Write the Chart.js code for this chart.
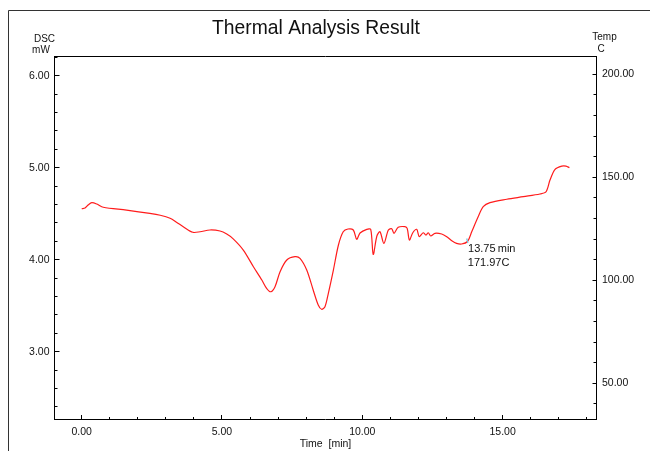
<!DOCTYPE html>
<html>
<head>
<meta charset="utf-8">
<script src="https://cdn.jsdelivr.net/npm/chart.js@4"></script>
<style>
  html, body { margin: 0; padding: 0; background: #fff; overflow: hidden; }
  canvas { display: block; }
</style>
</head>
<body>
<canvas id="chart" width="650" height="451"></canvas>
<script>
// DSC trace: time in minutes and heat flow in mW
const timeMin = [
  0.00, 0.12, 0.24, 0.36, 0.54, 0.77, 1.60, 2.43, 2.80, 3.15,
  3.39, 3.62, 3.96, 4.22, 4.57, 4.93, 5.17, 5.40, 5.76, 6.12,
  6.42, 6.59, 6.74, 6.89, 7.07, 7.31, 7.60, 7.78, 8.02, 8.25,
  8.43, 8.55, 8.67, 8.79, 8.97, 9.15, 9.32, 9.49, 9.68, 9.80,
  9.92, 10.16, 10.30, 10.39, 10.52, 10.63, 10.77, 10.93, 11.05, 11.13,
  11.28, 11.52, 11.60, 11.68, 11.80, 11.94, 12.03, 12.17, 12.27, 12.35,
  12.44, 12.59, 12.83, 13.01, 13.19, 13.36, 13.54, 13.75, 13.90, 14.13,
  14.31, 14.55, 15.15, 15.74, 16.33, 16.55, 16.69, 16.87, 17.11, 17.26,
  17.38
];
const dscMw = [
  4.554, 4.562, 4.598, 4.620, 4.605, 4.570, 4.540, 4.504, 4.483, 4.450,
  4.405, 4.359, 4.298, 4.304, 4.323, 4.312, 4.279, 4.227, 4.105, 3.924,
  3.779, 3.689, 3.652, 3.707, 3.870, 3.997, 4.033, 4.015, 3.888, 3.671,
  3.508, 3.461, 3.489, 3.635, 3.888, 4.160, 4.304, 4.334, 4.323, 4.222,
  4.290, 4.330, 4.330, 4.057, 4.258, 4.304, 4.178, 4.323, 4.337, 4.287,
  4.352, 4.359, 4.341, 4.214, 4.293, 4.330, 4.250, 4.293, 4.268, 4.293,
  4.258, 4.287, 4.279, 4.250, 4.207, 4.178, 4.171, 4.198, 4.304, 4.467,
  4.576, 4.620, 4.657, 4.685, 4.714, 4.739, 4.866, 4.983, 5.018, 5.018,
  5.000
];

// labelled tick values
const timeTicks = [0, 5, 10, 15];
const dscTicks = [3, 4, 5, 6];
const tempTicks = [50, 100, 150, 200];

// marked point on the trace
const markTime = 13.75;
const markTemp = 171.97;

const FONT = '"Liberation Sans", Arial, Helvetica, sans-serif';
Chart.defaults.font.family = FONT;

const INK = '#111';

function fixedTicks(list) {
  return scale => { scale.ticks = list.map(v => ({ value: v })); };
}

const decorations = {
  id: 'decorations',
  afterDraw(chart) {
    const c = chart.ctx;
    const a = chart.chartArea;
    const xs = chart.scales.x, ys = chart.scales.y, ts = chart.scales.y2;
    const snap = v => Math.round(v - 0.5) + 0.5;
    c.save();

    // outer frame
    c.strokeStyle = '#333';
    c.lineWidth = 1;
    c.beginPath();
    c.moveTo(8.5, 451);
    c.lineTo(8.5, 10.5);
    c.lineTo(650, 10.5);
    c.stroke();

    // top edge of the plot box
    c.strokeStyle = '#000';
    c.beginPath();
    c.moveTo(a.left, snap(a.top));
    c.lineTo(a.right, snap(a.top));
    c.stroke();

    // inward tick marks
    c.beginPath();
    for (let m = 0; m <= Math.floor(xs.max); m++) {
      const px = snap(xs.getPixelForValue(m));
      const len = m % 5 === 0 ? 4.5 : 2.5;
      c.moveTo(px, a.bottom);
      c.lineTo(px, a.bottom - len);
    }
    for (let k = Math.ceil(ys.min * 5); k <= Math.floor(ys.max * 5); k++) {
      const py = snap(ys.getPixelForValue(k / 5));
      const len = k % 5 === 0 ? 5 : 3;
      c.moveTo(a.left, py);
      c.lineTo(a.left + len, py);
    }
    for (let k = Math.ceil(ts.min / 10); k <= Math.floor(ts.max / 10); k++) {
      const py = snap(ts.getPixelForValue(k * 10));
      const len = k % 5 === 0 ? 4 : 3;
      c.moveTo(a.right, py);
      c.lineTo(a.right - len, py);
    }
    c.stroke();

    // chart title
    c.fillStyle = INK;
    c.textAlign = 'center';
    c.textBaseline = 'alphabetic';
    c.font = '19.3px ' + FONT;
    c.fillText('Thermal Analysis Result', 316, 34.3);

    // axis headers
    c.font = '10px ' + FONT;
    c.textBaseline = 'middle';
    c.fillText('DSC', 44.5, 39.5);
    c.fillText('mW', 41, 50.5);
    c.fillText('Temp', 604.5, 37);
    c.fillText('C', 601, 49);

    // marked point
    const idx = timeMin.indexOf(markTime);
    const mx = xs.getPixelForValue(markTime);
    const my = ys.getPixelForValue(dscMw[idx]);
    c.strokeStyle = '#6ec3df';
    c.lineWidth = 1.2;
    c.beginPath();
    c.moveTo(mx - 0.8, my - 3);
    c.lineTo(mx + 0.4, my + 1.5);
    c.stroke();

    c.fillStyle = INK;
    c.textAlign = 'left';
    c.font = '11px ' + FONT;
    c.fillText(markTime.toFixed(2) + '\u2009min', mx + 0.5, my + 7);
    c.fillText(markTemp.toFixed(2) + 'C', mx + 0.3, my + 21);

    c.restore();
  }
};

new Chart(document.getElementById('chart'), {
  type: 'line',
  data: {
    datasets: [{
      data: timeMin.map((t, i) => ({ x: t, y: dscMw[i] })),
      borderColor: '#ff1c1c',
      borderWidth: 1.2,
      pointRadius: 0,
      fill: false,
      tension: 0.3,
      yAxisID: 'y'
    }]
  },
  options: {
    responsive: false,
    animation: false,
    devicePixelRatio: 1,
    events: [],
    layout: { padding: { top: 56.5, left: 0, right: 0, bottom: 0 } },
    plugins: { legend: { display: false }, tooltip: { enabled: false } },
    scales: {
      x: {
        type: 'linear',
        position: 'bottom',
        min: -0.969,
        max: 18.347,
        afterBuildTicks: fixedTicks(timeTicks),
        afterFit: s => { s.height = 31.5; },
        grid: { display: false, drawTicks: false },
        border: { display: true, color: '#000', width: 1 },
        ticks: {
          padding: 6, color: INK, font: { size: 10.5 },
          maxRotation: 0, autoSkip: false,
          callback: v => Number(v).toFixed(2)
        },
        title: {
          display: true, text: 'Time  [min]', color: INK,
          font: { size: 10.5 }, padding: { top: 0, bottom: 1 }
        }
      },
      y: {
        type: 'linear',
        position: 'left',
        min: 2.263,
        max: 6.209,
        afterBuildTicks: fixedTicks(dscTicks),
        afterFit: s => { s.width = 54.5; },
        grid: { display: false, drawTicks: false },
        border: { display: true, color: '#000', width: 1 },
        ticks: {
          padding: 5, color: INK, font: { size: 10.5 },
          callback: v => Number(v).toFixed(2)
        }
      },
      y2: {
        type: 'linear',
        position: 'right',
        min: 32.43,
        max: 208.64,
        afterBuildTicks: fixedTicks(tempTicks),
        afterFit: s => { s.width = 53.5; },
        grid: { display: false, drawTicks: false },
        border: { display: true, color: '#000', width: 1 },
        ticks: {
          padding: 5.5, color: INK, font: { size: 10.5 },
          callback: v => Number(v).toFixed(2)
        }
      }
    }
  },
  plugins: [decorations]
});
</script>
</body>
</html>
